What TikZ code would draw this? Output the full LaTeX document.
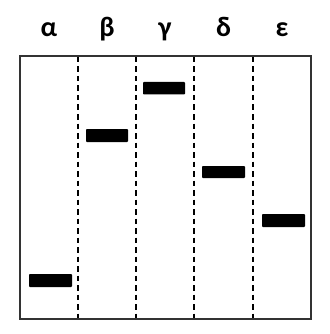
\documentclass[tikz,border=0pt]{standalone}
\usepackage{fontspec}
\setmainfont{Carlito}
\begin{document}
\begin{tikzpicture}[x=1pt,y=-1pt,
  frame/.style={draw=black!80,line width=1.8pt},
  lane/.style={draw=black,line width=1.5pt,dash pattern=on 5.5pt off 4pt},
  band/.style={fill=black,rounded corners=0.8pt},
  lab/.style={font=\bfseries\fontsize{28}{32}\selectfont,anchor=base}]
\useasboundingbox (0,0) rectangle (329,334);
% outer frame
\draw[frame] (20,56) rectangle (311,319);
% lane separators
\foreach \x/\n in {78/a,136/b,194/c,253/d}{
  \coordinate (t\n) at (\x,57);
  \coordinate (b\n) at (\x,318);
  \draw[lane] (t\n) -- (b\n);
}
% column labels
\node[lab] (la) at (49,37) {α};
\node[lab] (lb) at (107,37) {β};
\node[lab] (lg) at (165,37) {γ};
\node[lab] (ld) at (223.5,37) {δ};
\node[lab] (le) at (282,37) {ε};
% bands
\fill[band] (29,274) rectangle (72,287);
\fill[band] (86,129) rectangle (128,142);
\fill[band] (143,82) rectangle (185,94.5);
\fill[band] (202,166) rectangle (245,178);
\fill[band] (262,214) rectangle (305,227);
\end{tikzpicture}
\end{document}
